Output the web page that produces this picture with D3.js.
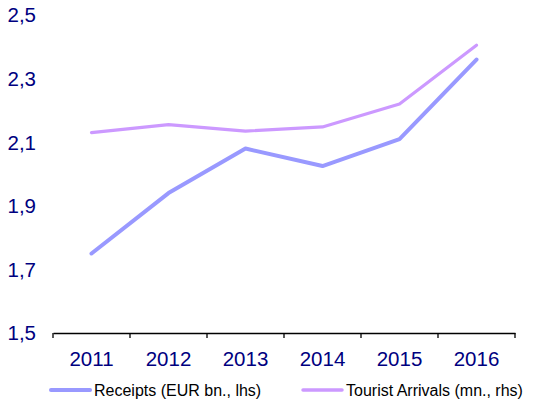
<!DOCTYPE html>
<html>
<head>
<meta charset="utf-8">
<script src="https://cdn.jsdelivr.net/npm/d3@7"></script>
<style>
  body { margin: 0; background: #fff; }
  svg { display: block; font-family: "Liberation Sans", Arial, sans-serif; }
  .axis-x .domain, .axis-x .tick line { stroke: #000; stroke-width: 1.3; }
</style>
</head>
<body>
<svg id="chart" width="545" height="403"></svg>
<script>
"use strict";

var years = ['2011', '2012', '2013', '2014', '2015', '2016'];
var receipts = [1.75, 1.94, 2.08, 2.025, 2.11, 2.36];
var arrivals = [2.13, 2.155, 2.135, 2.148, 2.22, 2.405];
var y_ticks = [1.5, 1.7, 1.9, 2.1, 2.3, 2.5];
var series_names = ['Receipts (EUR bn., lhs)', 'Tourist Arrivals (mn., rhs)'];

var svg = d3.select('#chart');
var navy = '#000080';

// scales
var scale_x = d3.scaleBand().domain(years).range([53, 515]);
var scale_y = d3.scaleLinear().domain([1.5, 2.5]).range([333, 15]);

// y labels only, no axis line
svg.append('g').selectAll('text')
    .data(y_ticks).enter()
    .append('text')
      .attr('x', 36)
      .attr('y', d => scale_y(d))
      .attr('dy', '0.36em')
      .attr('text-anchor', 'end')
      .attr('fill', navy)
      .style('font-size', '20.5px')
      .text(d => d3.format('.1f')(d).replace('.', ','))
;

// x axis, ticks between categories
var axis_x = svg.append('g').classed('axis-x', true)
    .attr('transform', 'translate(0, 333)')
    .call(d3.axisBottom(scale_x).tickSize(0).tickSizeOuter(0));
axis_x.selectAll('.tick text')
    .attr('y', 18)
    .attr('dy', '0.71em')
    .attr('fill', navy)
    .style('font-size', '20.5px')
    .style('font-family', '"Liberation Sans", Arial, sans-serif');
axis_x.selectAll('.sep')
    .data(years.concat(['end'])).enter()
    .append('line')
      .attr('x1', (d, i) => scale_x.range()[0] + i * scale_x.step())
      .attr('x2', (d, i) => scale_x.range()[0] + i * scale_x.step())
      .attr('y1', 0)
      .attr('y2', 5)
      .attr('stroke', '#000')
      .attr('stroke-width', 1.3)
;

// lines
var line = d3.line()
    .x((d, i) => scale_x(years[i]) + scale_x.bandwidth() / 2)
    .y(d => scale_y(d));

svg.append('path')
    .attr('d', line(arrivals))
    .attr('fill', 'none')
    .attr('stroke', '#cc99ff')
    .attr('stroke-width', 3.2)
    .attr('stroke-linecap', 'round')
    .attr('stroke-linejoin', 'round');

svg.append('path')
    .attr('d', line(receipts))
    .attr('fill', 'none')
    .attr('stroke', '#9999ff')
    .attr('stroke-width', 4)
    .attr('stroke-linecap', 'round')
    .attr('stroke-linejoin', 'round');

// legend
var legend = [
    {name: series_names[0], color: '#9999ff', w: 4, x: 51},
    {name: series_names[1], color: '#cc99ff', w: 3.5, x: 303}
];
var lg = svg.append('g').selectAll('g')
    .data(legend).enter()
    .append('g')
      .attr('transform', d => 'translate(' + d.x + ', 390)');
lg.append('line')
    .attr('x1', 0).attr('x2', 39)
    .attr('y1', 0).attr('y2', 0)
    .attr('stroke', d => d.color)
    .attr('stroke-width', d => d.w)
    .attr('stroke-linecap', 'round');
lg.append('text')
    .attr('x', 43)
    .attr('dy', '0.36em')
    .style('font-size', '16px')
    .attr('fill', '#000')
    .text(d => d.name);
</script>
</body>
</html>
